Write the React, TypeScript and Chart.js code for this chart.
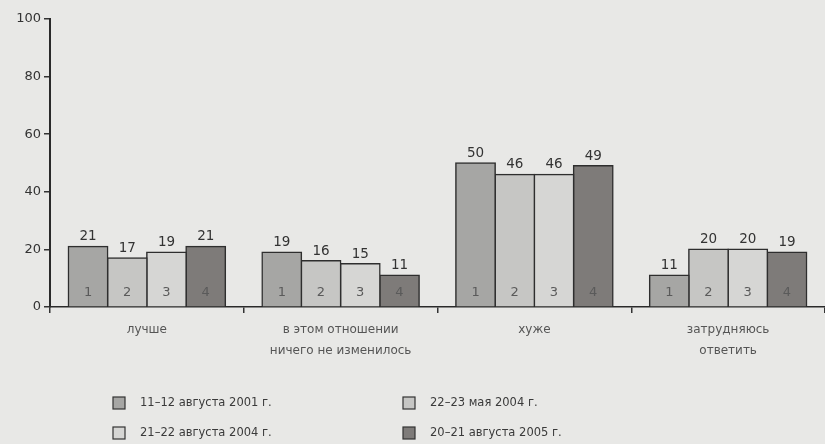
import React, { useEffect, useRef } from 'react';
import { Chart, registerables } from 'chart.js';
Chart.register(...registerables);

const categories = [['лучше'], ['в этом отношении', 'ничего не изменилось'], ['хуже'], ['затрудняюсь', 'ответить']];
const seriesLabels = ['11–12 августа 2001 г.', '22–23 мая 2004 г.', '21–22 августа 2004 г.', '20–21 августа 2005 г.'];
const aug2001 = [21, 19, 50, 11];
const may2004 = [17, 16, 46, 20];
const aug2004 = [19, 15, 46, 20];
const aug2005 = [21, 11, 49, 19];
const barNumbers = ['1', '2', '3', '4'];
const yMin = 0;
const yMax = 100;
const yStep = 20;

const colors = ['#a6a6a4', '#c6c6c4', '#d6d6d4', '#7e7b79'];
const FONT = '"DejaVu Sans", "Noto Sans", sans-serif';

const bgPlugin = {
  id: 'bg',
  beforeDraw(chart: any) {
    const { ctx, width, height } = chart;
    ctx.save();
    ctx.fillStyle = '#e8e8e6';
    ctx.fillRect(0, 0, width, height);
    ctx.restore();
  },
};

const labelPlugin = {
  id: 'barLabels',
  afterDatasetsDraw(chart: any) {
    const { ctx } = chart;
    ctx.save();
    chart.data.datasets.forEach((ds: any, di: number) => {
      const meta = chart.getDatasetMeta(di);
      meta.data.forEach((el: any, i: number) => {
        const v = ds.data[i];
        ctx.textAlign = 'center';
        ctx.fillStyle = '#333';
        ctx.font = `13.5px ${FONT}`;
        ctx.textBaseline = 'bottom';
        ctx.fillText(String(v), el.x, el.y - 3);
        ctx.fillStyle = '#5a5a5a';
        ctx.textBaseline = 'middle';
        ctx.font = `13px ${FONT}`;
        ctx.fillText(barNumbers[di], el.x, el.base - 14);
      });
    });
    ctx.restore();
  },
};

const legendPlugin = {
  id: 'customLegend',
  afterDraw(chart: any) {
    const { ctx } = chart;
    const order = [0, 1, 2, 3];
    const cols = [113, 403];
    const rows = [403, 433];
    ctx.save();
    order.forEach((di, k) => {
      const x = cols[k % 2];
      const y = rows[Math.floor(k / 2)];
      ctx.fillStyle = colors[di];
      ctx.fillRect(x, y - 6, 12, 12);
      ctx.strokeStyle = '#333';
      ctx.lineWidth = 1.2;
      ctx.strokeRect(x, y - 6, 12, 12);
      ctx.fillStyle = '#3a3a3a';
      ctx.font = `11.5px ${FONT}`;
      ctx.textAlign = 'left';
      ctx.textBaseline = 'middle';
      ctx.fillText(seriesLabels[di], x + 27, y);
    });
    ctx.restore();
  },
};

export default function App() {
  const ref = useRef<HTMLCanvasElement>(null);
  useEffect(() => {
    if (!ref.current) return;
    const series = [aug2001, may2004, aug2004, aug2005];
    const chart = new Chart(ref.current, {
      type: 'bar',
      data: {
        labels: categories as any,
        datasets: series.map((d, i) => ({
          label: seriesLabels[i],
          data: d,
          backgroundColor: colors[i],
          borderColor: '#2e2e2e',
          borderWidth: 1.5,
          inflateAmount: 0.8,
          barPercentage: 1,
          categoryPercentage: 0.81,
        })),
      },
      options: {
        responsive: false,
        animation: false,
        maintainAspectRatio: false,
        layout: { padding: { top: 19, right: 0, left: 0, bottom: 0 } },
        plugins: { legend: { display: false }, tooltip: { enabled: false } },
        scales: {
          x: {
            grid: { display: true, drawOnChartArea: false, drawTicks: true, tickLength: 6, color: '#333', offset: true, lineWidth: 1.5 },
            border: { color: '#2a2a2a', width: 1.5 },
            ticks: { color: '#555', font: { family: FONT, size: 12, lineHeight: 1.7 }, padding: 7, maxRotation: 0, autoSkip: false },
            afterFit(scale: any) { scale.height = 137; },
          },
          y: {
            min: yMin,
            max: yMax,
            grid: { display: true, drawOnChartArea: false, drawTicks: true, tickLength: 6, color: '#333', lineWidth: 1.5 },
            border: { color: '#2a2a2a', width: 2 },
            ticks: { stepSize: yStep, color: '#333', font: { family: FONT, size: 13 }, padding: 3 },
            afterFit(scale: any) { scale.width = 50; },
          },
        },
      },
      plugins: [bgPlugin, labelPlugin, legendPlugin],
    });
    return () => chart.destroy();
  }, []);
  return (
    <div style={{ position: 'absolute', left: 0, top: 0, width: 825, height: 444 }}>
      <canvas ref={ref} width={825} height={444} style={{ display: 'block' }} />
    </div>
  );
}
